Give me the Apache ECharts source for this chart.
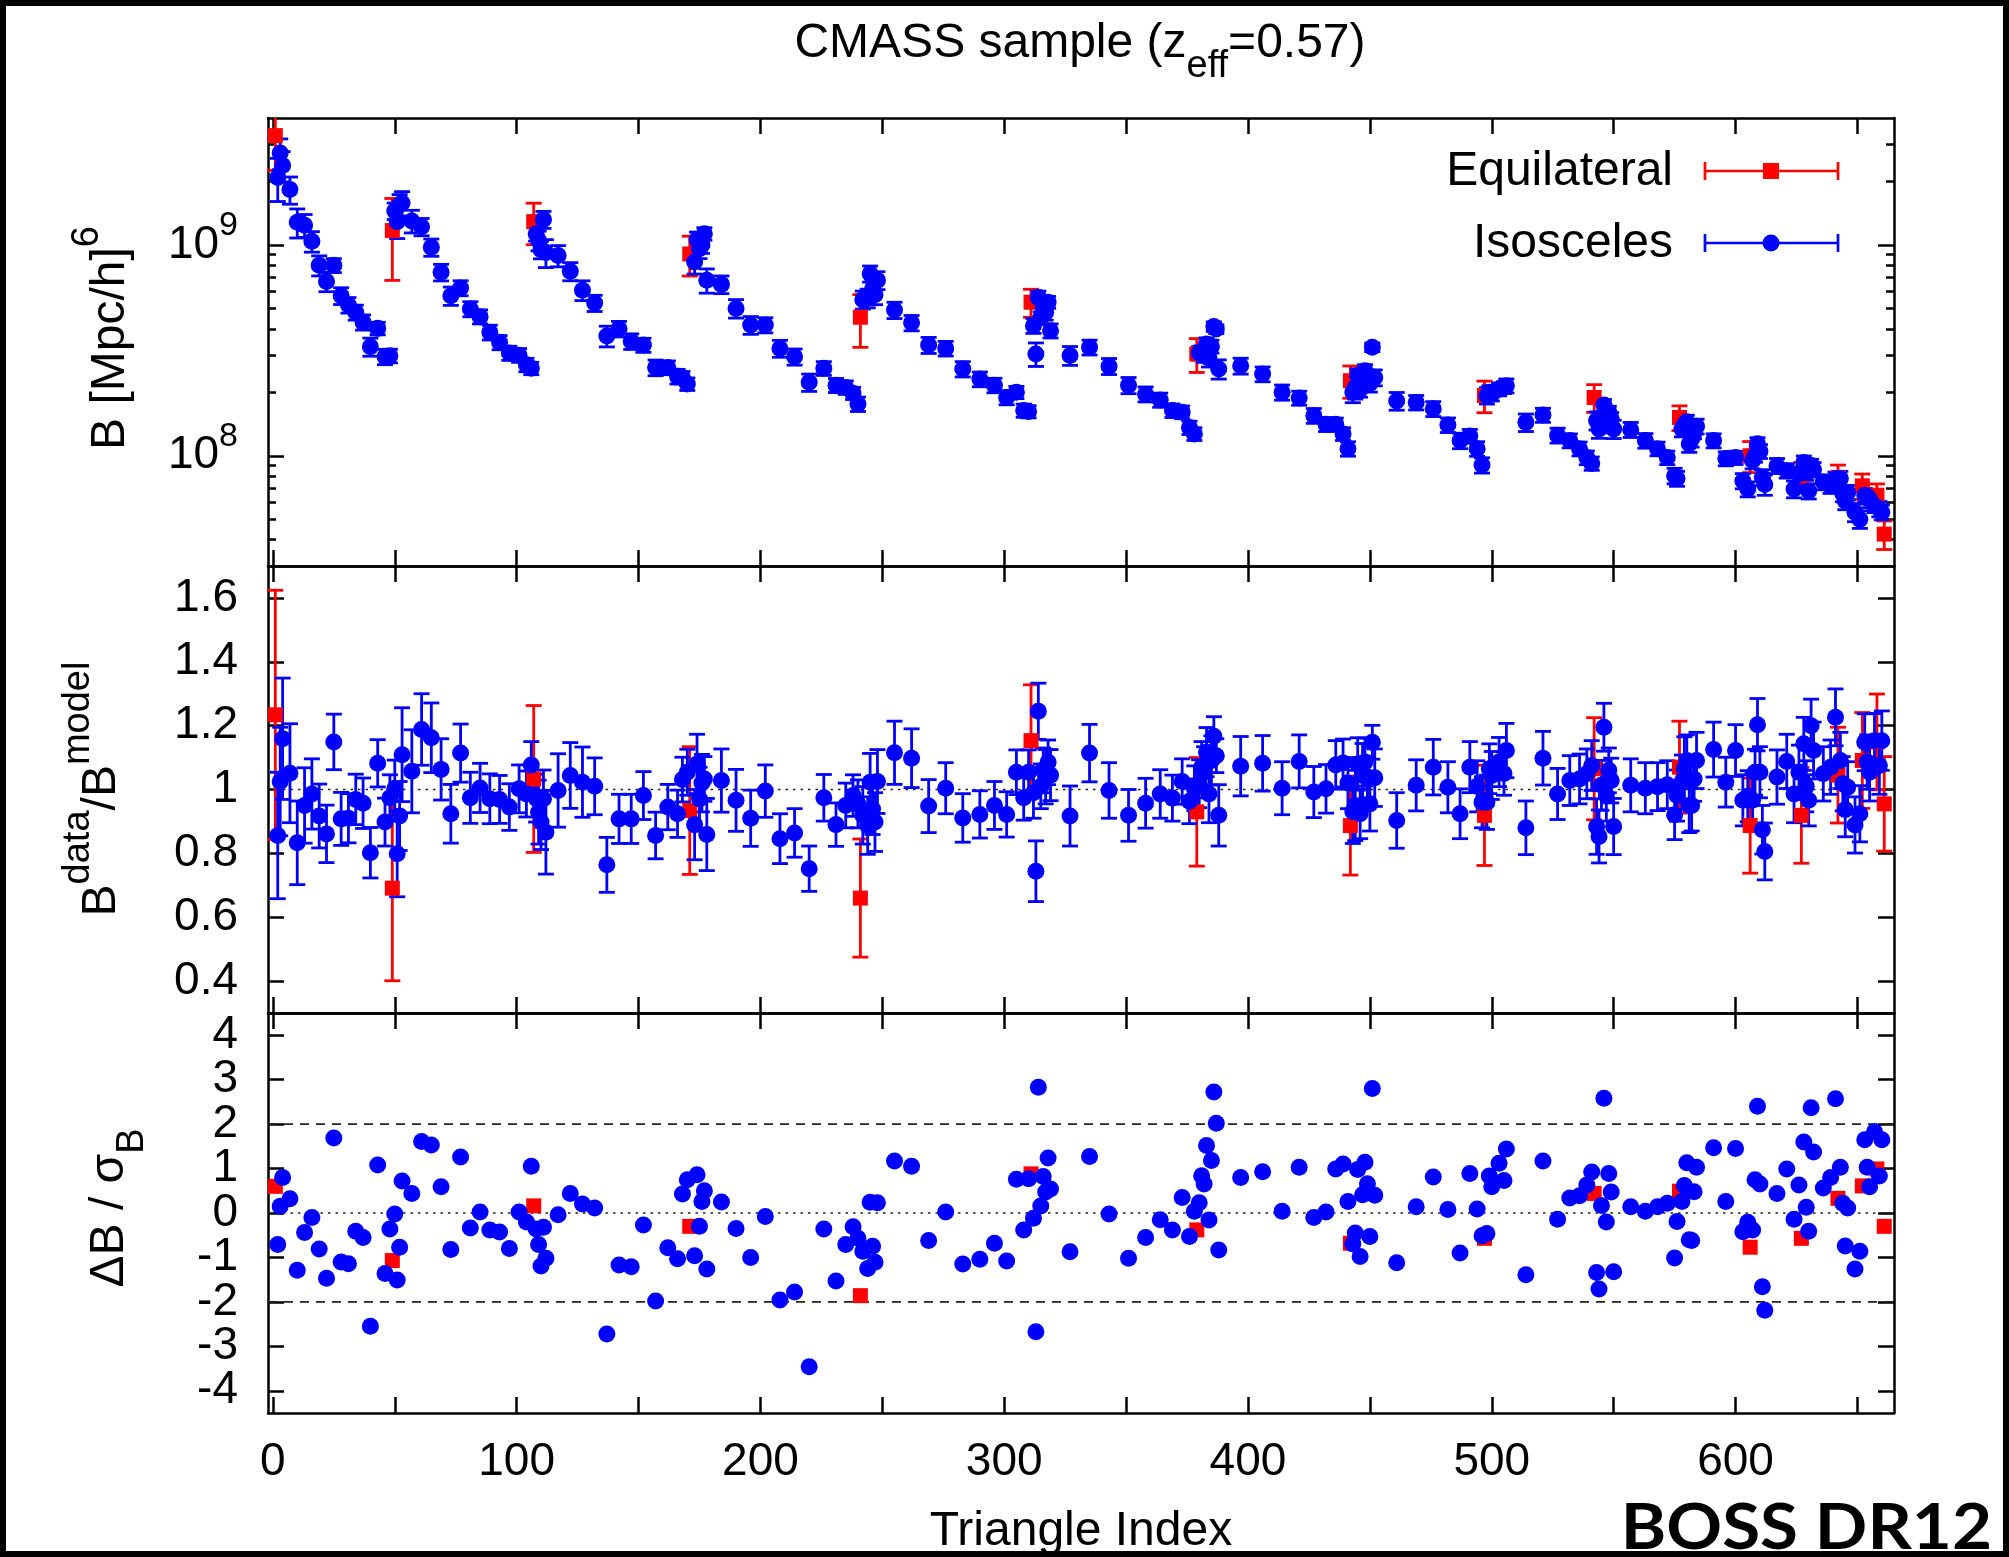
<!DOCTYPE html>
<html><head><meta charset="utf-8">
<script src="https://cdn.jsdelivr.net/npm/echarts@6/dist/echarts.min.js"></script>
<style>html,body{margin:0;padding:0;background:#fff;}#c{width:2009px;height:1557px;}</style>
</head><body><div id="c"></div>
<script>
// ---------- data ----------
const isoIndex = [2,3,4,7,10,13,16,19,22,25,28,31,34,37,40,43,46,48,
  50,51,52,53,57,61,65,69,73,77,81,85,89,93,97,101,104,106,
  108,109,110,111,112,117,122,127,132,137,142,147,152,157,162,166,168,170,
  173,174,175,176,177,178,184,190,196,202,208,214,220,226,231,235,238,240,
  242,244,245,246,247,248,255,262,269,276,283,290,296,301,305,308,310,
  312,313,314,315,316,317,318,319,327,335,343,351,358,364,369,373,376,378,
  380,381,382,383,384,385,386,387,388,397,406,414,421,427,432,436,439,441,
  443,444,445,446,447,448,449,450,451,452,461,469,476,482,487,491,494,496,
  498,499,500,503,505,506,514,521,527,532,536,539,541,
  543,544,545,546,547,548,549,550,557,563,568,572,575,576,
  578,579,580,581,582,583,584,591,596,600,603,605,
  607,608,609,610,611,612,617,621,624,626,
  628,629,630,631,632,636,639,641,
  643,644,645,646,649,651,
  653,654,655,657,
  659,660];
const isoB = [2.09e9,2.73e9,2.38e9,1.83e9,1.28e9,1.24e9,1.04e9,8.0e8,6.7e8,8.0e8,5.74e8,5.19e8,4.79e8,4.30e8,3.29e8,4.02e8,2.95e8,2.98e8,
  1.45e9,1.29e9,1.55e9,1.58e9,1.30e9,1.22e9,9.75e8,7.42e8,5.74e8,6.25e8,4.97e8,4.57e8,3.85e8,3.45e8,3.07e8,3.0e8,2.7e8,2.6e8,
  1.13e9,1.05e9,9.5e8,1.32e9,9.2e8,8.9e8,7.5e8,6.1e8,5.3e8,3.7e8,4.0e8,3.49e8,3.35e8,2.62e8,2.62e8,2.38e8,2.35e8,2.19e8,
  8.3e8,1.06e9,9.6e8,1.0e9,1.13e9,6.8e8,6.5e8,5.0e8,4.17e8,4.17e8,3.23e8,2.95e8,2.23e8,2.6e8,2.16e8,2.11e8,1.98e8,1.76e8,
  5.5e8,5.6e8,7.3e8,6.2e8,5.8e8,6.8e8,4.91e8,4.27e8,3.35e8,3.23e8,2.58e8,2.31e8,2.16e8,1.89e8,2.0e8,1.64e8,1.62e8,
  4.14e8,3.04e8,5.64e8,4.5e8,5.0e8,4.79e8,5.35e8,3.92e8,2.99e8,3.27e8,2.66e8,2.16e8,1.96e8,1.84e8,1.64e8,1.61e8,1.36e8,1.27e8,
  3.07e8,3.09e8,3.0e8,3.39e8,2.9e8,3.3e8,4.1e8,3.99e8,2.58e8,2.67e8,2.44e8,2.0e8,1.88e8,1.55e8,1.41e8,1.41e8,1.27e8,1.08e8,
  2.0e8,2.1e8,2.4e8,2.07e8,2.3e8,2.53e8,2.4e8,2.2e8,3.27e8,2.35e8,1.82e8,1.79e8,1.67e8,1.40e8,1.18e8,1.24e8,1.08e8,9.03e7,
  1.93e8,2.0e8,1.96e8,2.07e8,2.11e8,2.15e8,1.44e8,1.56e8,1.25e8,1.18e8,1.08e8,9.8e7,9.2e7,
  1.47e8,1.34e8,1.5e8,1.74e8,1.4e8,1.61e8,1.5e8,1.34e8,1.33e8,1.18e8,1.08e8,9.8e7,8.04e7,7.8e7,
  1.34e8,1.4e8,1.45e8,1.14e8,1.2e8,1.29e8,1.38e8,1.18e8,9.7e7,9.8e7,7.6e7,6.95e7,
  9.5e7,1.0e8,1.14e8,1.05e8,7.9e7,7.3e7,8.97e7,8.5e7,6.95e7,8.2e7,
  9.3e7,8.3e7,6.8e7,9.0e7,8.6e7,7.5e7,7.2e7,7.8e7,
  7.8e7,6.6e7,6.1e7,6.7e7,5.4e7,5.0e7,
  6.5e7,6.4e7,6.2e7,5.8e7,
  5.6e7,5.4e7];
const isoRatio = [0.856,1.025,1.159,1.051,0.833,0.95,0.986,0.917,0.861,1.149,0.908,0.910,0.969,0.957,0.802,1.082,0.898,0.974,
  1.002,0.799,0.917,1.109,1.057,1.188,1.162,1.063,0.924,1.114,0.974,1.005,0.971,0.969,0.945,1.002,0.986,1.077,
  0.973,0.929,0.898,0.971,0.866,0.997,1.044,1.023,1.01,0.764,0.908,0.908,0.981,0.856,0.945,0.924,1.031,1.054,
  0.89,1.08,0.97,1.02,1.033,0.859,1.028,0.966,0.910,0.995,0.846,0.864,0.752,0.974,0.890,0.95,0.981,0.955,
  0.919,0.887,1.023,0.939,0.898,1.025,1.115,1.098,0.948,1.004,0.911,0.922,0.95,0.922,1.054,0.974,1.054,
  0.99,0.744,1.245,1.01,1.06,1.04,1.085,1.045,0.917,1.114,0.997,0.919,0.957,0.986,0.973,1.025,0.963,1.004,
  1.018,1.07,1.054,1.117,0.986,1.091,1.167,1.106,0.919,1.073,1.082,1.004,1.088,0.992,1.002,1.077,1.083,1.02,
  0.931,0.95,1.08,0.924,1.044,1.086,1.039,0.955,1.148,1.037,0.903,1.013,1.07,1.007,0.924,1.07,1.01,0.96,
  0.96,1.065,1.044,1.086,1.05,1.122,0.88,1.098,0.986,1.028,1.033,1.049,1.075,
  0.884,0.853,1.013,1.195,0.981,1.06,1.028,0.884,1.013,1.004,1.009,1.015,0.921,0.981,
  1.023,1.065,1.091,0.95,0.95,1.033,1.091,1.125,1.023,1.122,0.966,0.979,
  0.966,1.054,1.203,1.054,0.874,0.806,1.039,1.088,0.986,1.054,
  1.143,1.01,0.966,1.2,1.122,1.049,1.07,1.226,
  1.091,1.018,0.937,1.007,0.889,0.924,
  1.148,1.086,1.054,1.153,
  1.075,1.153];
const isoRatioErr = [0.198,0.17,0.19,0.155,0.131,0.118,0.11,0.10,0.09,0.087,0.083,0.077,0.079,0.079,0.079,0.074,0.075,0.072,
  0.09,0.135,0.108,0.147,0.13,0.112,0.109,0.096,0.092,0.091,0.08,0.077,0.078,0.075,0.073,0.075,0.072,0.073,
  0.075,0.10,0.086,0.09,0.131,0.115,0.103,0.11,0.089,0.086,0.077,0.077,0.075,0.073,0.071,0.074,0.07,0.072,
  0.11,0.093,0.10,0.09,0.07,0.113,0.099,0.097,0.088,0.082,0.078,0.076,0.071,0.073,0.068,0.07,0.065,0.075,
  0.09,0.09,0.09,0.08,0.092,0.10,0.099,0.092,0.083,0.08,0.076,0.074,0.075,0.071,0.07,0.07,0.07,
  0.08,0.095,0.088,0.07,0.07,0.085,0.07,0.08,0.094,0.09,0.087,0.081,0.078,0.076,0.072,0.071,0.07,0.07,
  0.075,0.08,0.08,0.077,0.09,0.077,0.061,0.053,0.096,0.093,0.087,0.083,0.083,0.08,0.076,0.076,0.075,0.08,
  0.10,0.11,0.082,0.078,0.10,0.075,0.065,0.085,0.053,0.09,0.087,0.08,0.087,0.08,0.078,0.08,0.08,0.08,
  0.085,0.078,0.075,0.077,0.068,0.085,0.084,0.084,0.08,0.078,0.078,0.078,0.078,
  0.087,0.083,0.078,0.075,0.08,0.07,0.07,0.088,0.083,0.08,0.075,0.075,0.078,0.08,
  0.085,0.1,0.08,0.085,0.08,0.07,0.088,0.086,0.078,0.081,0.08,0.08,
  0.085,0.072,0.082,0.08,0.076,0.089,0.085,0.085,0.09,0.085,
  0.083,0.08,0.08,0.083,0.089,0.085,0.085,0.089,
  0.088,0.085,0.085,0.08,0.088,0.088,
  0.089,0.085,0.09,0.085,
  0.09,0.093];
const isoDelta = [-0.71,0.15,0.80,0.32,-1.29,-0.44,-0.10,-0.81,-1.47,1.69,-1.10,-1.14,-0.41,-0.55,-2.55,1.08,-1.36,-0.36,
  -0.02,-1.51,-0.77,0.72,0.44,1.61,1.53,0.59,-0.82,1.26,-0.34,0.02,-0.38,-0.43,-0.80,0.02,-0.20,1.05,
  -0.36,-0.71,-1.19,-0.32,-1.02,-0.04,0.44,0.20,0.11,-2.72,-1.17,-1.21,-0.27,-1.98,-0.78,-1.03,0.43,0.75,
  -0.96,0.86,-0.30,0.26,0.50,-1.26,0.25,-0.35,-1.00,-0.08,-1.96,-1.78,-3.46,-0.36,-1.53,-0.71,-0.31,-0.57,
  -0.86,-1.25,0.24,-0.75,-1.11,0.23,1.17,1.05,-0.62,0.02,-1.15,-1.04,-0.68,-1.08,0.76,-0.38,0.77,
  -0.12,-2.67,2.83,0.16,0.82,0.47,1.24,0.54,-0.87,1.27,-0.02,-1.02,-0.55,-0.15,-0.38,0.35,-0.53,0.04,
  0.23,0.84,0.65,1.52,-0.16,1.18,2.72,2.02,-0.83,0.80,0.93,0.04,1.03,-0.10,0.02,0.99,1.10,0.26,
  -0.70,-0.45,0.98,-0.98,0.41,1.14,0.66,-0.53,2.80,0.40,-1.12,0.14,0.81,0.08,-0.90,0.89,0.09,-0.51,
  -0.46,0.83,0.59,1.12,0.73,1.44,-1.39,1.17,-0.14,0.34,0.39,0.63,0.92,
  -1.34,-1.71,0.17,2.58,-0.20,0.89,0.47,-1.32,0.14,0.04,0.14,0.22,-1.01,-0.19,
  0.26,0.62,1.13,-0.60,-0.62,0.48,1.03,1.47,0.26,1.45,-0.42,-0.21,
  -0.38,0.75,2.40,0.65,-1.66,-2.19,0.44,0.99,-0.14,0.63,
  1.60,0.13,-0.41,2.37,1.37,0.56,0.80,2.57,
  1.03,0.22,-0.74,0.11,-1.26,-0.86,
  1.65,1.03,0.59,1.83,
  0.83,1.65];

const equiIndex = [1,49,107,171,241,311,379,442,497,542,577,606,627,642,652,658,661];
const equiB = [3.30e9,1.17e9,1.29e9,9.06e8,4.54e8,5.35e8,3.04e8,2.27e8,1.93e8,1.89e8,1.52e8,1.0e8,8.0e7,7.9e7,7.2e7,6.5e7,4.25e7];
const equiRatio = [1.234,0.691,1.033,0.934,0.66,1.153,0.93,0.887,0.919,1.065,1.07,0.887,0.919,1.045,1.091,1.149,0.955];
const equiRatioErr = [0.39,0.29,0.23,0.20,0.185,0.175,0.17,0.155,0.157,0.16,0.144,0.149,0.15,0.15,0.15,0.15,0.148];
const equiDelta = [0.60,-1.07,0.16,-0.30,-1.86,0.88,-0.38,-0.68,-0.57,0.44,0.49,-0.77,-0.57,0.33,0.61,0.99,-0.30];

// ticks
const xTickValues = [0,50,100,150,200,250,300,350,400,450,500,550,600,650];
const xLabelValues = [0,100,200,300,400,500,600];
const topMajorTicks = [1e8,1e9];
const topMinorTicks = [4e7,5e7,6e7,7e7,8e7,9e7,2e8,3e8,4e8,5e8,6e8,7e8,8e8,9e8,2e9,3e9];
const midTicks = [0.4,0.6,0.8,1,1.2,1.4,1.6];
const botTicks = [-4,-3,-2,-1,0,1,2,3,4];
const botLabelsEven = [-4,-2,0,2,4];
const botLabelsOdd = [-3,-1,1,3];
const midDotted = [1];
const botDotted = [0];
const botDashed = [-2,2];

// ---------- chart ----------
const FONT = '"Liberation Sans", Arial, Helvetica, sans-serif';
const BLUE = '#0000ff', RED = '#ff0000';
const chart = echarts.init(document.getElementById('c'), null, {renderer:'canvas'});

function errRenderer(color, capHalf, lw) {
  return function (params, api) {
    const x = api.value(0);
    const lo = api.coord([x, api.value(2)]);
    const hi = api.coord([x, api.value(3)]);
    const cs = params.coordSys;
    const top = cs.y, bottom = cs.y + cs.height;
    const yA = Math.max(top, Math.min(bottom, hi[1]));
    const yB = Math.max(top, Math.min(bottom, lo[1]));
    const ch = [{type:'line', shape:{x1:lo[0], y1:yA, x2:lo[0], y2:yB}, style:{stroke:color, lineWidth:lw}}];
    if (hi[1] >= top - 0.5 && hi[1] <= bottom) ch.push({type:'line', shape:{x1:hi[0]-capHalf, y1:hi[1], x2:hi[0]+capHalf, y2:hi[1]}, style:{stroke:color, lineWidth:lw}});
    if (lo[1] >= top && lo[1] <= bottom + 0.5) ch.push({type:'line', shape:{x1:lo[0]-capHalf, y1:lo[1], x2:lo[0]+capHalf, y2:lo[1]}, style:{stroke:color, lineWidth:lw}});
    return {type:'group', children: ch};
  };
}
function refRenderer(dash, lw, color) {
  return function (params, api) {
    const p = api.coord([0, api.value(1)]);
    const cs = params.coordSys;
    return {type:'line', shape:{x1:cs.x, y1:p[1], x2:cs.x+cs.width, y2:p[1]}, style:{stroke:color, lineWidth:lw, lineDash:dash}};
  };
}

const axisLine = {show:true, onZero:false, lineStyle:{color:'#000', width:2.5}};
const noLine = {show:false, onZero:false};
function xAx(gi, pos, labels) {
  return {type:'value', gridIndex:gi, position:pos, min:-2, max:665,
    axisLine: axisLine,
    axisTick:{show:true, inside:true, length:16, lineStyle:{color:'#000', width:2.5}, customValues:xTickValues},
    axisLabel: labels ? {show:true, customValues:xLabelValues, fontSize:46, color:'#000', fontFamily:FONT, margin:26, showMinLabel:true, showMaxLabel:true} : {show:false},
    splitLine:{show:false}};
}
function yVal(gi, pos, min, max, ticks, labelVals, fmt, showLine) {
  return {type:'value', gridIndex:gi, position:pos, min:min, max:max,
    axisLine: showLine === false ? noLine : axisLine,
    axisTick: ticks ? {show:true, inside:true, length:16, lineStyle:{color:'#000', width:2.5}, customValues:ticks} : {show:false},
    axisLabel: labelVals ? {show:true, customValues:labelVals, fontSize:46, color:'#000', fontFamily:FONT, margin:30, formatter:fmt, showMinLabel:true, showMaxLabel:true, hideOverlap:false} : {show:false},
    splitLine:{show:false}};
}
const supRich = {
  b:{fontSize:46, fontFamily:FONT, color:'#000', lineHeight:72, verticalAlign:'middle'},
  s:{fontSize:34, fontFamily:FONT, color:'#000', lineHeight:42, verticalAlign:'top'}
};
function yLog(pos, ticks, len, labels, showLine) {
  return {type:'log', logBase:10, gridIndex:0, position:pos, min:3e7, max:4e9,
    axisLine: showLine ? axisLine : noLine,
    axisTick:{show:true, inside:true, length:len, lineStyle:{color:'#000', width:2.5}, customValues:ticks},
    axisLabel: labels ? {show:true, customValues:ticks, margin:30, showMinLabel:true, showMaxLabel:true,
      formatter: v => '{b|10}{s|' + Math.round(Math.log10(v)) + '}', rich:supRich} : {show:false},
    splitLine:{show:false}, minorTick:{show:false}};
}

const L = 268, W = 1626;
const grids = [
  {left:L, top:118, width:W, height:448},
  {left:L, top:566, width:W, height:447},
  {left:L, top:1013, width:W, height:400}
].map(g => Object.assign(g, {containLabel:false, outerBoundsMode:'none'}));

const isoTopErr = isoIndex.map((x,i) => [x, isoB[i], isoB[i]*(1-isoRatioErr[i]/isoRatio[i]), isoB[i]*(1+isoRatioErr[i]/isoRatio[i])]);
const equiTopErr = equiIndex.map((x,i) => [x, equiB[i], equiB[i]*(1-equiRatioErr[i]/equiRatio[i]), equiB[i]*(1+equiRatioErr[i]/equiRatio[i])]);
const isoMidErr = isoIndex.map((x,i) => [x, isoRatio[i], isoRatio[i]-isoRatioErr[i], isoRatio[i]+isoRatioErr[i]]);
const equiMidErr = equiIndex.map((x,i) => [x, equiRatio[i], equiRatio[i]-equiRatioErr[i], equiRatio[i]+equiRatioErr[i]]);

function errSeries(name, xi, yi, data, color) {
  return {type:'custom', name, xAxisIndex:xi, yAxisIndex:yi, data, renderItem:errRenderer(color, 8, 2.8),
    encode:{x:0, y:[1,2,3]}, clip:false, silent:true, z:2, animation:false};
}
function ptSeries(name, xi, yi, data, color, sym, size) {
  return {type:'scatter', name, xAxisIndex:xi, yAxisIndex:yi, data, symbol:sym, symbolSize:size,
    itemStyle:{color, opacity:1}, clip:false, silent:true, z:2, animation:false};
}
function refSeries(xi, yi, vals, dash, lw, color) {
  return {type:'custom', xAxisIndex:xi, yAxisIndex:yi, data: vals.map(v => [0, v]), renderItem:refRenderer(dash, lw, color),
    encode:{x:0, y:1}, silent:true, z:1, animation:false};
}

const series = [
  refSeries(2, 4, midDotted, [2.5,5], 1.6, '#222'),
  refSeries(4, 6, botDotted, [2.5,5], 1.6, '#222'),
  refSeries(4, 6, botDashed, [9,7], 1.6, '#222'),
  errSeries('eqTopErr', 0, 0, equiTopErr, RED),
  ptSeries('Equilateral', 0, 0, equiIndex.map((x,i)=>[x, equiB[i]]), RED, 'rect', 15),
  errSeries('isoTopErr', 0, 0, isoTopErr, BLUE),
  ptSeries('Isosceles', 0, 0, isoIndex.map((x,i)=>[x, isoB[i]]), BLUE, 'circle', 17),
  errSeries('eqMidErr', 2, 4, equiMidErr, RED),
  ptSeries('eqMid', 2, 4, equiIndex.map((x,i)=>[x, equiRatio[i]]), RED, 'rect', 15),
  errSeries('isoMidErr', 2, 4, isoMidErr, BLUE),
  ptSeries('isoMid', 2, 4, isoIndex.map((x,i)=>[x, isoRatio[i]]), BLUE, 'circle', 17),
  ptSeries('eqBot', 4, 6, equiIndex.map((x,i)=>[x, equiDelta[i]]), RED, 'rect', 15),
  ptSeries('isoBot', 4, 6, isoIndex.map((x,i)=>[x, isoDelta[i]]), BLUE, 'circle', 17)
];

const T = (text, x, y, opts) => Object.assign({type:'text', x, y, silent:true, z:10,
  style: Object.assign({text, fill:'#000', font:'48px ' + FONT, align:'center', verticalAlign:'middle'}, opts || {})});
const richBase = {
  n:{fontSize:48, fontFamily:FONT, fill:'#000', lineHeight:84, verticalAlign:'middle'},
  s:{fontSize:38, fontFamily:FONT, fill:'#000', lineHeight:50, verticalAlign:'top'},
  u:{fontSize:38, fontFamily:FONT, fill:'#000', lineHeight:50, verticalAlign:'bottom'}
};
function legendSample(y, color, sym) {
  const x1 = 1705, x2 = 1838, xm = 1771;
  const items = [
    {type:'line', shape:{x1, y1:y, x2, y2:y}, style:{stroke:color, lineWidth:2.7}},
    {type:'line', shape:{x1, y1:y-9, x2:x1, y2:y+9}, style:{stroke:color, lineWidth:2.7}},
    {type:'line', shape:{x1:x2, y1:y-9, x2, y2:y+9}, style:{stroke:color, lineWidth:2.7}}
  ];
  if (sym === 'rect') items.push({type:'rect', shape:{x:xm-8, y:y-8, width:16, height:16}, style:{fill:color}});
  else items.push({type:'circle', shape:{cx:xm, cy:y, r:8.5}, style:{fill:color}});
  return items.map(o => Object.assign(o, {silent:true, z:10}));
}

const graphic = [
  {type:'rect', shape:{x:0, y:0, width:2009, height:1557}, style:{fill:'none', stroke:'#000', lineWidth:12}, silent:true, z:0},
  {type:'text', x:1080, y:44, silent:true, z:10, style:{text:'{n|CMASS sample (z}{u|eff}{n|=0.57)}', rich:richBase, align:'center', verticalAlign:'middle'}},
  T('Triangle Index', 1081, 1532),
  {type:'text', x:111, y:338, rotation:Math.PI/2, silent:true, z:10, style:{text:'{n|B [Mpc/h]}{s|6}', rich:richBase, align:'center', verticalAlign:'middle'}},
  {type:'text', x:102, y:789, rotation:Math.PI/2, silent:true, z:10, style:{text:'{n|B}{s|data}{n|/B}{s|model}', rich:richBase, align:'center', verticalAlign:'middle'}},
  {type:'text', x:110, y:1208, rotation:Math.PI/2, silent:true, z:10, style:{text:'{n|ΔB / σ}{u|B}', rich:richBase, align:'center', verticalAlign:'middle'}},
  T('Equilateral', 1673, 172, {align:'right'}),
  T('Isosceles', 1673, 244, {align:'right'}),
  ...legendSample(171, RED, 'rect'),
  ...legendSample(243, BLUE, 'circle'),
  {type:'text', x:1992, y:1528, scaleX:1.08, silent:true, z:10,
    style:{text:'BOSS DR12', fill:'#000', font:'bold 64px Lato, "Open Sans", sans-serif', align:'right', verticalAlign:'middle'}}
];

const intFmt = v => String(Math.round(v));
chart.setOption({
  animation:false,
  backgroundColor:'#fff',
  grid: grids,
  xAxis: [xAx(0,'bottom',false), xAx(0,'top',false), xAx(1,'bottom',false), xAx(1,'top',false), xAx(2,'bottom',true), xAx(2,'top',false)],
  yAxis: [
    yLog('left', topMajorTicks, 16, true, true),
    yLog('right', topMajorTicks, 16, false, true),
    yLog('left', topMinorTicks, 8, false, false),
    yLog('right', topMinorTicks, 8, false, false),
    yVal(1,'left',0.3,1.7,midTicks,midTicks, v => String(Math.round(v*10)/10)),
    yVal(1,'right',0.3,1.7,midTicks,null),
    yVal(2,'left',-4.5,4.5,botTicks,botLabelsEven, intFmt),
    yVal(2,'right',-4.5,4.5,botTicks,null),
    yVal(2,'left',-4.5,4.5,null,botLabelsOdd, intFmt, false)
  ],
  series,
  graphic
});
</script></body></html>
